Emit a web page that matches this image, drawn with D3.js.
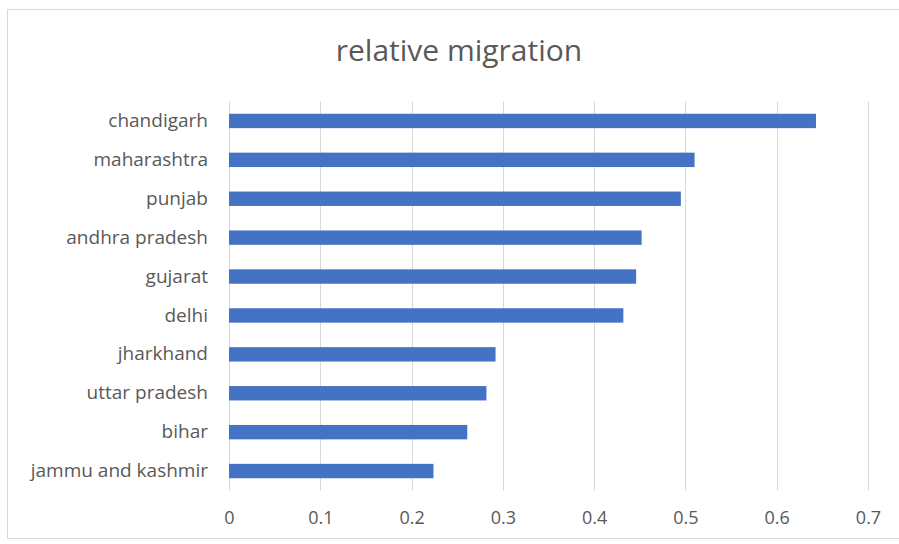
<!DOCTYPE html>
<html>
<head>
<meta charset="utf-8">
<script src="https://cdn.jsdelivr.net/npm/d3@7"></script>
<style>
  body { margin: 0; background: #fff; }
  text { font-family: "Open Sans", "Liberation Sans", sans-serif; }
</style>
</head>
<body>
<div id="chart"></div>
<script>
// data
var states = ["chandigarh", "maharashtra", "punjab", "andhra pradesh", "gujarat",
  "delhi", "jharkhand", "uttar pradesh", "bihar", "jammu and kashmir"];
var migration = [0.643, 0.510, 0.495, 0.452, 0.446, 0.432, 0.292, 0.282, 0.261, 0.224];
var xTicks = [0, 0.1, 0.2, 0.3, 0.4, 0.5, 0.6, 0.7];

var data = states.map(function(s, i) { return {state: s, value: migration[i]}; });

var W = 899, H = 544;
var margin = {top: 101.5, right: 31, bottom: 53.5, left: 229};
var width = W - margin.left - margin.right,
    height = H - margin.top - margin.bottom;

var svg = d3.select("#chart").append("svg")
  .attr("width", W)
  .attr("height", H);

// chart frame
svg.append("rect")
  .attr("x", 7.5).attr("y", 9.5)
  .attr("width", 900).attr("height", 529)
  .attr("fill", "#fff")
  .attr("stroke", "#d9d9d9");

svg.append("text")
  .attr("x", 459)
  .attr("y", 61)
  .attr("text-anchor", "middle")
  .attr("fill", "#595959")
  .style("font-size", "30px")
  .text("relative migration");

var g = svg.append("g")
  .attr("transform", "translate(" + margin.left + "," + margin.top + ")");

var x = d3.scaleLinear().domain([0, 0.7]).range([0, width]);
var y = d3.scaleBand().domain(states).range([0, height]).paddingInner(0.63).paddingOuter(0.315);

// gridlines
g.append("g")
  .selectAll("line")
  .data(xTicks)
  .enter().append("line")
  .attr("x1", function(d) { return Math.round(x(d)) + 0.5; })
  .attr("x2", function(d) { return Math.round(x(d)) + 0.5; })
  .attr("y1", 0)
  .attr("y2", height)
  .attr("stroke", "#d9d9d9");

// x axis labels
var xAxis = g.append("g")
  .attr("transform", "translate(0," + height + ")")
  .call(d3.axisBottom(x).tickValues(xTicks).tickSize(0).tickPadding(21).tickFormat(d3.format("")));
xAxis.select(".domain").remove();
xAxis.selectAll("text")
  .attr("fill", "#595959")
  .style("font-size", "18px");

// y axis labels
var yAxis = g.append("g")
  .call(d3.axisLeft(y).tickSize(0).tickPadding(21));
yAxis.select(".domain").remove();
yAxis.selectAll("text")
  .attr("fill", "#595959")
  .style("font-size", "19px");

// bars
g.append("g")
  .selectAll("rect")
  .data(data)
  .enter().append("rect")
  .attr("x", x(0))
  .attr("y", function(d) { return y(d.state); })
  .attr("width", function(d) { return x(d.value) - x(0); })
  .attr("height", y.bandwidth())
  .attr("fill", "#4472c4");
</script>
</body>
</html>
